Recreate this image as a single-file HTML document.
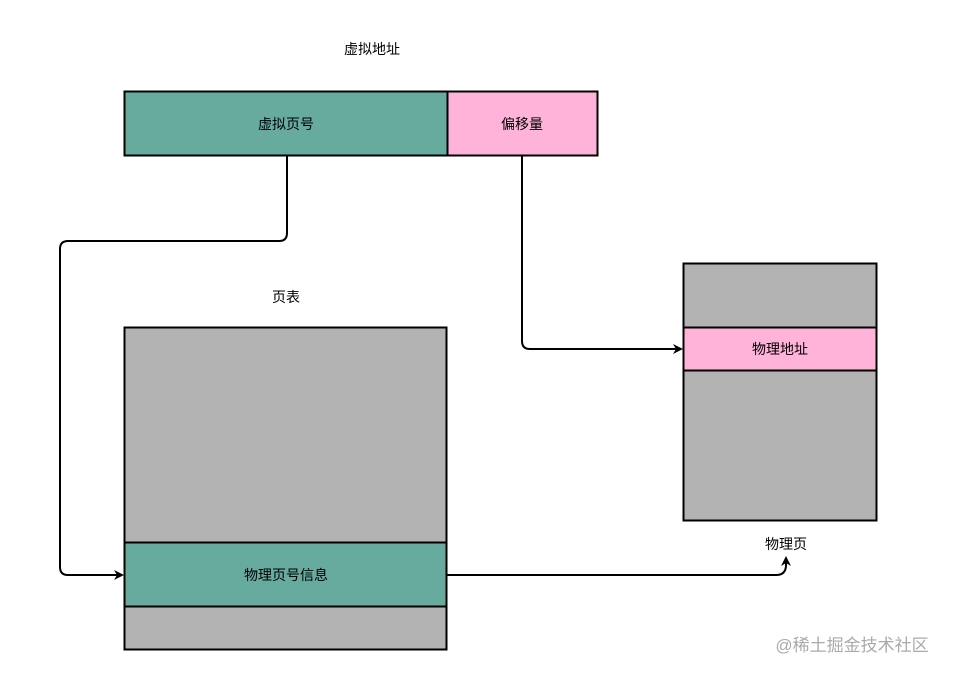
<!DOCTYPE html><html><head><style>body{margin:0;background:#fff}svg text{font-family:"Liberation Sans","Noto Sans CJK SC",sans-serif;font-size:14px;fill:#000}</style></head><body>
<svg width="953" height="676" xmlns="http://www.w3.org/2000/svg">
<defs><marker id="a" markerWidth="10" markerHeight="10" refX="8" refY="5" orient="auto" markerUnits="userSpaceOnUse"><path d="M0,0 L10,5 L0,10 L3,5 Z" fill="#000"/></marker></defs>
<text x="372" y="54" text-anchor="middle">虚拟地址</text>
<rect x="124.5" y="91.5" width="323" height="64" fill="#67ab9f" stroke="#000" stroke-width="2"/>
<rect x="447.5" y="91.5" width="150" height="64" fill="#ffb3d9" stroke="#000" stroke-width="2"/>
<text x="286" y="129" text-anchor="middle">虚拟页号</text>
<text x="522" y="129" text-anchor="middle">偏移量</text>
<text x="286" y="302" text-anchor="middle">页表</text>
<rect x="124.5" y="327.5" width="322" height="322" fill="#b3b3b3" stroke="#000" stroke-width="2"/>
<rect x="124.5" y="542.5" width="322" height="64" fill="#67ab9f" stroke="#000" stroke-width="2"/>
<text x="286" y="580" text-anchor="middle">物理页号信息</text>
<rect x="683.5" y="263.5" width="193" height="257" fill="#b3b3b3" stroke="#000" stroke-width="2"/>
<rect x="683.5" y="327.5" width="193" height="43" fill="#ffb3d9" stroke="#000" stroke-width="2"/>
<text x="780" y="354" text-anchor="middle">物理地址</text>
<text x="786" y="549" text-anchor="middle">物理页</text>
<text x="852" y="651" text-anchor="middle" style="fill:#aaa;font-size:17px">@稀土掘金技术社区</text>
<g fill="none" stroke="#000" stroke-width="2">
<path d="M287,156 V233 Q287,241 279,241 H68 Q60,241 60,249 V567 Q60,575 68,575 H122" marker-end="url(#a)"/>
<path d="M522,156 V341 Q522,349 530,349 H681" marker-end="url(#a)"/>
<path d="M447,575 H776 Q786,575 786,565 V558" marker-end="url(#a)"/>
</g>
</svg></body></html>
